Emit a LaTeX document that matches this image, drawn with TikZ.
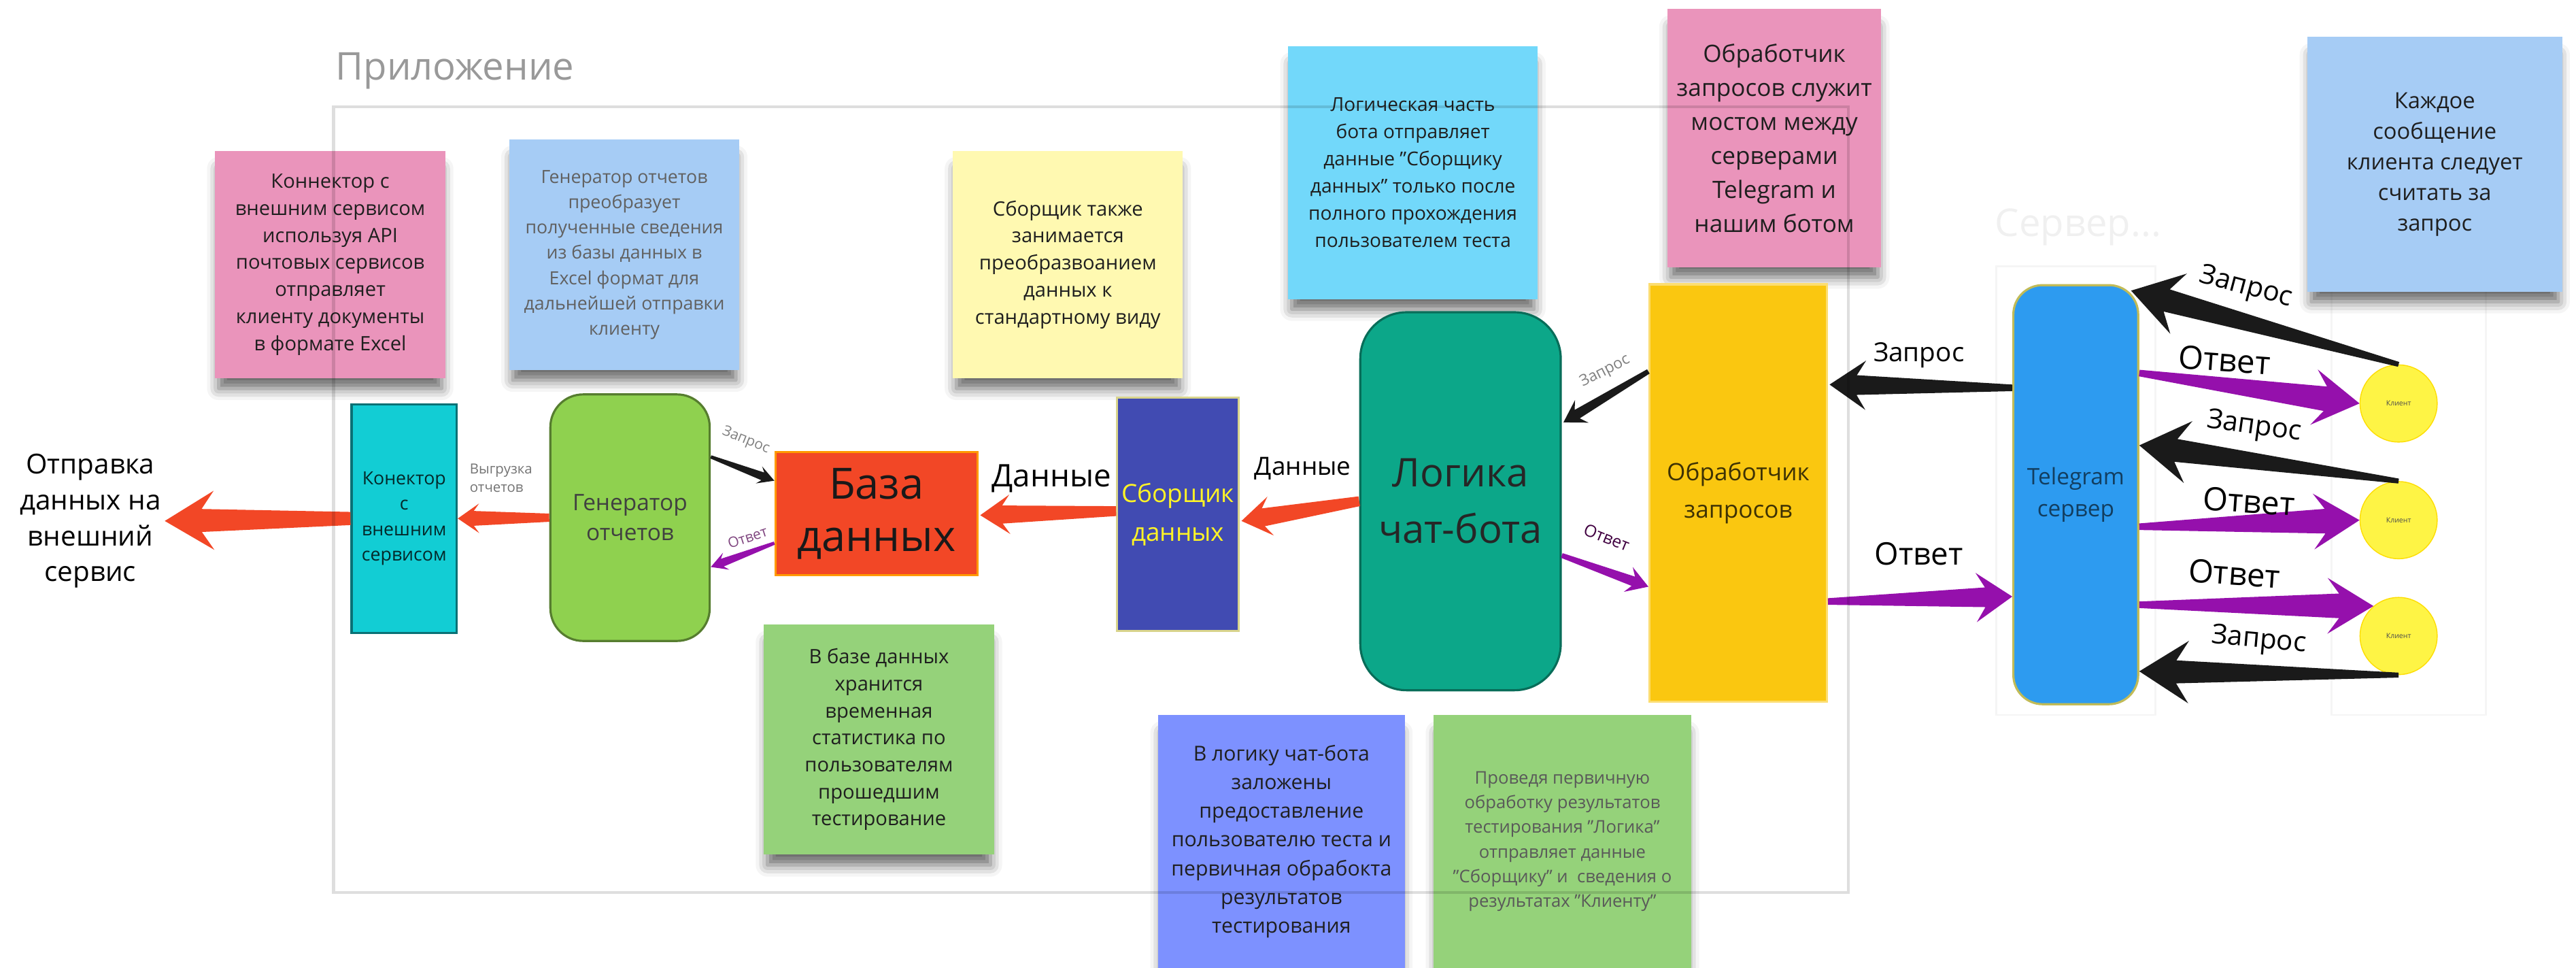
\documentclass[tikz,border=0pt]{standalone}
\usepackage{fontspec}
\setmainfont{Open Sans}
\usetikzlibrary{calc,shadows.blur}

\definecolor{notepink}{HTML}{EA94BB}
\definecolor{noteblue}{HTML}{A6CCF5}
\definecolor{noteyellow}{HTML}{FFF9B1}
\definecolor{notecyan}{HTML}{72D8FA}
\definecolor{notegreen}{HTML}{95D27A}
\definecolor{noteviolet}{HTML}{7D91FF}
\definecolor{concol}{HTML}{12CDD4}
\definecolor{gencol}{HTML}{8FD14F}
\definecolor{dbcol}{HTML}{F24726}
\definecolor{sborcol}{HTML}{414BB2}
\definecolor{logiccol}{HTML}{0CA789}
\definecolor{obrcol}{HTML}{FAC710}
\definecolor{tgcol}{HTML}{2D9BF0}
\definecolor{clcol}{HTML}{FEF445}
\definecolor{arred}{HTML}{F24726}
\definecolor{arviolet}{HTML}{9510AC}
\definecolor{arblack}{HTML}{1A1A1A}

\newcommand{\pxu}{0.24158mm}

\tikzset{
  sticky/.style={rectangle, inner sep=0pt, align=center, text=black!88,
    blur shadow={shadow xshift=0pt, shadow yshift=-6pt, shadow blur radius=5pt, shadow opacity=60, shadow scale=0.97}},
  sz/.style 2 args={minimum width=#1*\pxu, minimum height=#2*\pxu},
  blk/.style={rectangle, inner sep=0pt, align=center, line width=0.9pt},
  lbl/.style={inner sep=0pt, align=center},
  fatarrow/.style n args={4}{to path={
    ($(\tikztostart)!{#1*\pxu}!90:(\tikztotarget)$)
    -- ($(\tikztotarget)!{0.75*#3*\pxu}!(\tikztostart)!{#2*\pxu}!90:(\tikztotarget)$)
    -- ($(\tikztotarget)!{#3*\pxu}!(\tikztostart)!{#4*\pxu}!90:(\tikztotarget)$)
    -- (\tikztotarget)
    -- ($(\tikztotarget)!{#3*\pxu}!(\tikztostart)!{#4*\pxu}!-90:(\tikztotarget)$)
    -- ($(\tikztotarget)!{0.75*#3*\pxu}!(\tikztostart)!{#2*\pxu}!-90:(\tikztotarget)$)
    -- ($(\tikztostart)!{#1*\pxu}!-90:(\tikztotarget)$)
    -- cycle}},
}

\begin{document}
\begin{tikzpicture}[x=\pxu, y=-\pxu]
\useasboundingbox (0,0) rectangle (1568,589);

\draw[black, draw opacity=0.04, line width=0.8pt] (1215,162) rectangle (1312,435);
\draw[black, draw opacity=0.04, line width=0.8pt] (1419,162) rectangle (1513,435);
\node[lbl, font=\fontsize{16}{18}\selectfont, text=black!6] (ghostsrv) at (1265,138) {Сервер...};
\node[lbl, font=\fontsize{16}{18}\selectfont, text=black!8] (ghostcl) at (1466,138) {Клиенты};

\node[sticky, sz={140}{138}, fill=notepink, font=\fontsize{8.3}{11.3}\selectfont] (npink) at (201,161)
  {Коннектор с\\внешним сервисом\\используя API\\почтовых сервисов\\отправляет\\клиенту документы\\в формате Excel};
\node[sticky, sz={140}{140}, fill=noteblue, text=black!62, font=\fontsize{7.6}{10.6}\selectfont] (nblue) at (380,155)
  {Генератор отчетов\\преобразует\\полученные сведения\\из базы данных в\\Excel формат для\\дальнейшей отправки\\клиенту};
\node[sticky, sz={140}{138}, fill=noteyellow, font=\fontsize{8.3}{11.3}\selectfont] (nyellow) at (650,161)
  {Сборщик также\\занимается\\преобразвоанием\\данных к\\стандартному виду};
\node[sticky, sz={152}{154}, fill=notecyan, font=\fontsize{8}{11.4}\selectfont] (ncyan) at (860,105)
  {Логическая часть\\бота отправляет\\данные "Сборщику\\данных" только после\\полного прохождения\\пользователем теста};
\node[sticky, sz={130}{157}, fill=notepink, font=\fontsize{10}{14.2}\selectfont] (npinkb) at (1080,84)
  {Обработчик\\запросов служит\\мостом между\\серверами\\Telegram и\\нашим ботом};
\node[sticky, sz={155}{155}, fill=noteblue, font=\fontsize{9.3}{12.8}\selectfont] (nblueb) at (1482,100)
  {Каждое\\сообщение\\клиента следует\\считать за\\запрос};
\node[sticky, sz={140}{140}, fill=notegreen, font=\fontsize{8.3}{11.3}\selectfont] (ngreen) at (535,450)
  {В базе данных\\хранится\\временная\\статистика по\\пользователям\\прошедшим\\тестирование};
\node[sticky, sz={150}{154}, fill=noteviolet, font=\fontsize{8.6}{12}\selectfont] (nviolet) at (780,512)
  {В логику чат-бота\\заложены\\предоставление\\пользователю теста и\\первичная обрабокта\\результатов\\тестирования};
\node[sticky, sz={157}{154}, fill=notegreen, text=black!65, font=\fontsize{7.3}{10.3}\selectfont] (ngreenb) at (951,512)
  {Проведя первичную\\обработку результатов\\тестирования "Логика"\\отправляет данные\\"Сборщику" и \ сведения о\\результатах "Клиенту"};

\node[blk, sz={64}{139}, fill=concol, draw=black!45!concol, text=black!80!concol, font=\fontsize{7.6}{10.6}\selectfont] (con) at (246,315.5)
  {Конектор\\с\\внешним\\сервисом};
\node[blk, sz={97}{150}, rounded corners=4.8mm, fill=gencol, draw=black!40!gencol, text=black!75, font=\fontsize{9.5}{12.5}\selectfont] (gen) at (383.5,315)
  {Генератор\\отчетов};
\node[blk, sz={123}{75}, fill=dbcol, draw=orange!80!yellow, text=black!90, font=\fontsize{18}{22}\selectfont] (db) at (533.5,312.5)
  {База\\данных};
\node[blk, sz={74}{142}, fill=sborcol, draw=olive!35!white, text=yellow!85!white, font=\fontsize{10.5}{16}\selectfont] (sbor) at (717,313)
  {Сборщик\\данных};
\node[blk, sz={122}{230}, rounded corners=6.8mm, fill=logiccol, draw=black!35!logiccol, text=black!85, font=\fontsize{16.5}{23.5}\selectfont] (logic) at (889,305)
  {Логика\\чат-бота};
\node[blk, sz={108}{254}, fill=obrcol, draw=obrcol!60!white, text=black!75!obrcol, font=\fontsize{10}{15.5}\selectfont] (obr) at (1058,300)
  {Обработчик\\запросов};
\node[blk, sz={76}{255}, rounded corners=4.3mm, fill=tgcol, draw=olive!55!white, text=black!60!tgcol, font=\fontsize{9.5}{13.5}\selectfont] (tg) at (1263.5,301)
  {Telegram\\сервер};
\node[circle, sz={47}{47}, inner sep=0pt, fill=clcol, draw=yellow!80!orange, text=black!70, font=\fontsize{3}{3.5}\selectfont] (cl1) at (1460,245.5) {Клиент};
\node[circle, sz={47}{47}, inner sep=0pt, fill=clcol, draw=yellow!80!orange, text=black!70, font=\fontsize{3}{3.5}\selectfont] (cl2) at (1460,316.5) {Клиент};
\node[circle, sz={47}{47}, inner sep=0pt, fill=clcol, draw=yellow!80!orange, text=black!70, font=\fontsize{3}{3.5}\selectfont] (cl3) at (1460,387) {Клиент};

\node[lbl, font=\fontsize{11.5}{15}\selectfont] (out) at (55,317) {Отправка\\данных на\\внешний\\сервис};

\fill[arred] (con.west) to[fatarrow={4}{7}{30}{18}] ($(out.east)+(2,0)$);
\fill[arred] (gen.west) to[fatarrow={2.5}{4.5}{13}{9}] (con.east);
\fill[arblack] ($(gen.east)+(0,-37)$) to[fatarrow={1}{2.5}{10}{5.5}] ($(db.west)+(0,-20)$);
\fill[arviolet] ($(db.west)+(0,18)$) to[fatarrow={1}{2.5}{10}{5.5}] ($(gen.east)+(0,30)$);
\fill[arred] ($(sbor.west)+(0,-2)$) to[fatarrow={3}{5.5}{18}{12}] ($(db.east)+(1,1)$);
\fill[arred] (logic.west) to[fatarrow={3}{5.5}{18}{12}] ($(sbor.east)+(1,4)$);
\fill[arblack] ($(obr.west)+(0,-74)$) to[fatarrow={1.5}{3}{13}{8}] ($(logic.east)+(1,-48)$);
\fill[arviolet] ($(logic.east)+(0,33)$) to[fatarrow={1.5}{3}{13}{8}] ($(obr.west)+(0,57)$);
\fill[arblack] ($(tg.west)+(0,-65)$) to[fatarrow={2}{6}{22}{15}] ($(obr.east)+(1,-66)$);
\fill[arviolet] ($(obr.east)+(0,66)$) to[fatarrow={2}{6}{22}{15}] ($(tg.west)+(0,62)$);
\fill[arblack] (cl1.north) to[fatarrow={1.5}{7}{30}{19}] ($(tg.north east)+(-5,4)$);
\fill[arviolet] ($(tg.east)+(0,-74)$) to[fatarrow={2}{7.5}{28}{17}] (cl1.west);
\fill[arblack] (cl2.north) to[fatarrow={1.5}{7}{30}{19}] ($(tg.east)+(0,-30)$);
\fill[arviolet] ($(tg.east)+(0,19.5)$) to[fatarrow={2}{7.5}{28}{17}] (cl2.west);
\fill[arviolet] ($(tg.east)+(0,67)$) to[fatarrow={2}{7.5}{28}{17}] (cl3.130);
\fill[arblack] (cl3.south) to[fatarrow={1.5}{7}{30}{19}] ($(tg.east)+(0,107.5)$);

\node[lbl, align=left, text=black!55, font=\fontsize{5.8}{7.8}\selectfont] (lblup) at (305,291) {Выгрузка\\отчетов};
\node[lbl, rotate=-22, text=black!50, font=\fontsize{6}{7}\selectfont] (lreq1) at (454,268) {Запрос};
\node[lbl, rotate=18, text=violet!45!gray, font=\fontsize{6}{7}\selectfont] (lans1) at (455,327) {Ответ};
\node[lbl, font=\fontsize{13}{15}\selectfont] (ldata1) at (640,291) {Данные};
\node[lbl, font=\fontsize{10.5}{12}\selectfont] (ldata2) at (793,285) {Данные};
\node[lbl, rotate=27, text=black!50, font=\fontsize{6.5}{7.5}\selectfont] (lreq2) at (977,226) {Запрос};
\node[lbl, rotate=-22, text=violet!50!black, font=\fontsize{7}{8}\selectfont] (lans2) at (978,327) {Ответ};
\node[lbl, font=\fontsize{11}{13}\selectfont] (lreq3) at (1168,216) {Запрос};
\node[lbl, font=\fontsize{13}{15}\selectfont] (lans3) at (1168,337) {Ответ};
\node[lbl, rotate=-15, font=\fontsize{11.5}{13}\selectfont] (lreq4) at (1367,175) {Запрос};
\node[lbl, rotate=-4, font=\fontsize{13.5}{15}\selectfont] (lans4) at (1354,219) {Ответ};
\node[lbl, rotate=-8, font=\fontsize{11.5}{13}\selectfont] (lreq5) at (1372,260) {Запрос};
\node[lbl, rotate=-4, font=\fontsize{13.5}{15}\selectfont] (lans5) at (1369,305) {Ответ};
\node[lbl, rotate=-4, font=\fontsize{13.5}{15}\selectfont] (lans6) at (1360,349) {Ответ};
\node[lbl, rotate=-5, font=\fontsize{11.5}{13}\selectfont] (lreq6) at (1375,390) {Запрос};

\node[anchor=west, inner sep=0pt, text=black!40, font=\fontsize{16}{18}\selectfont] (apptitle) at (204,43) {Приложение};
\draw[black, draw opacity=0.13, line width=1.2pt] (203,65) rectangle (1125,543);
\end{tikzpicture}
\end{document}
